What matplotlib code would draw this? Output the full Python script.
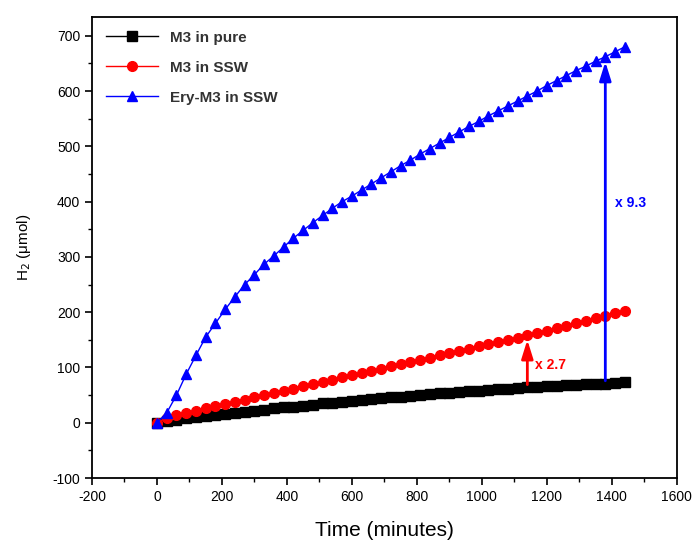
import matplotlib
matplotlib.use("Agg")
import matplotlib.pyplot as plt
from matplotlib.ticker import MultipleLocator

plt.rcParams['font.family'] = ['Liberation Sans', 'DejaVu Sans']
plt.rcParams['axes.unicode_minus'] = False

# sampling times (minutes)
time_min = list(range(0, 1441, 30))

# H2 evolved (umol)
m3_pure = [0, 3, 5, 8, 10, 12, 14, 16, 18, 20, 22, 24, 26, 28, 29, 31, 33,
           35, 36, 38, 40, 41, 43, 44, 46, 47, 49, 50, 52, 53, 54, 56, 57,
           58, 59, 61, 62, 63, 64, 65, 66, 67, 68, 69, 70, 71, 71, 72, 73]
m3_ssw = [0, 9, 14, 18, 22, 26, 30, 34, 38, 42, 46, 50, 54, 58, 62, 66, 70,
          74, 78, 82, 86, 90, 94, 98, 102, 106, 110, 114, 118, 122, 126, 130,
          134, 138, 142, 146, 150, 154, 158, 162, 166, 171, 175, 180, 184,
          189, 193, 198, 202]
ery_m3_ssw = [0, 18, 50, 88, 122, 155, 180, 205, 228, 250, 268, 287, 302, 318,
              334, 348, 362, 375, 388, 400, 410, 421, 432, 443, 454, 465, 475,
              486, 496, 506, 516, 526, 536, 545, 555, 564, 573, 582, 591, 600,
              610, 619, 628, 637, 645, 654, 662, 671, 680]

# fold-increase annotations
red_arrow_t = 1140
blue_arrow_t = 1380

fig = plt.figure(figsize=(6.97, 5.47), dpi=100)
ax = fig.add_axes([0.132, 0.126, 0.839, 0.843])

ax.plot(time_min, m3_pure, '-s', color='black', lw=1, markersize=6.5, label='M3 in pure')
ax.plot(time_min, m3_ssw, '-o', color='red', lw=1, markersize=7, label='M3 in SSW')
ax.plot(time_min, ery_m3_ssw, '-^', color='blue', lw=1, markersize=7, label='Ery-M3 in SSW')

# arrows from the M3-in-pure curve up to the SSW curves
i_r = time_min.index(red_arrow_t)
i_b = time_min.index(blue_arrow_t)
ax.annotate('', xy=(red_arrow_t, m3_ssw[i_r] - 3), xytext=(red_arrow_t, m3_pure[i_r]),
            arrowprops=dict(arrowstyle='-|>,head_width=0.25,head_length=0.8',
                            color='red', lw=2, mutation_scale=14))
ax.annotate('', xy=(blue_arrow_t, ery_m3_ssw[i_b] - 4), xytext=(blue_arrow_t, m3_pure[i_b]),
            arrowprops=dict(arrowstyle='-|>,head_width=0.25,head_length=0.8',
                            color='blue', lw=2, mutation_scale=14))
ax.text(red_arrow_t + 25, 104, 'x 2.7', color='red', fontsize=10, fontweight='bold',
        va='center', ha='left')
ax.text(blue_arrow_t + 30, 398, 'x 9.3', color='blue', fontsize=10, fontweight='bold',
        va='center', ha='left')

ax.set_xlim(-200, 1600)
ax.set_ylim(-100, 734)
ax.xaxis.set_major_locator(MultipleLocator(200))
ax.xaxis.set_minor_locator(MultipleLocator(100))
ax.set_yticks(range(-100, 701, 100))
ax.yaxis.set_minor_locator(MultipleLocator(50))
ax.tick_params(which='major', direction='out', length=5, width=1.2, labelsize=10)
ax.tick_params(which='minor', direction='out', length=3, width=1)
ax.tick_params(top=False, right=False, which='both')
for s in ax.spines.values():
    s.set_linewidth(1.3)

ax.set_xlabel('Time (minutes)', fontsize=15, labelpad=12)
ax.set_ylabel('H$_2$ (\u03bcmol)', fontsize=11, labelpad=14)

leg = ax.legend(loc='upper left', frameon=False, fontsize=11, handlelength=3.4,
                borderaxespad=0.5, labelspacing=1.05, bbox_to_anchor=(0.0, 1.0))
for t in leg.get_texts():
    t.set_color('#333333')
    t.set_fontweight('bold')

fig.savefig('out.png', dpi=100)
